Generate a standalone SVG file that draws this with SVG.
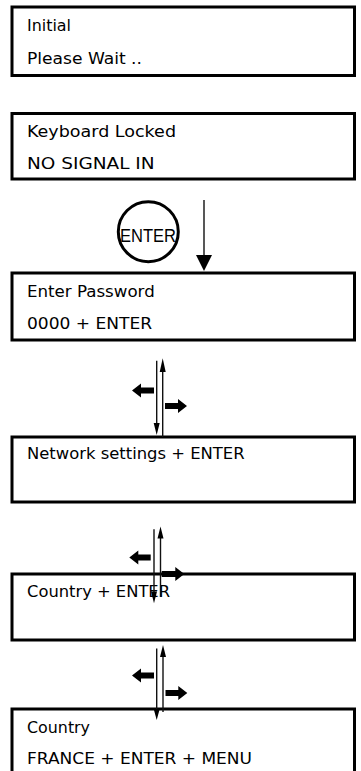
<svg xmlns="http://www.w3.org/2000/svg" width="361" height="771" viewBox="0 0 361 771">
<style>
.box{fill:#fff;stroke:#000;stroke-width:3}
.t{font-family:"DejaVu Sans","Liberation Sans",sans-serif;font-size:16px;fill:#000}
.ln{stroke:#111;stroke-width:1.4;fill:none}
.hd{fill:#000}
</style>
<rect width="361" height="771" fill="#fff"/>
<g id="node-initial">
<rect class="box" x="12" y="7" width="342.5" height="68.5"/>
<text class="t" x="27" y="30.5" textLength="44" lengthAdjust="spacingAndGlyphs">Initial</text>
<text class="t" x="27" y="63.5" textLength="115" lengthAdjust="spacingAndGlyphs">Please Wait ..</text>
</g>
<g id="node-locked">
<rect class="box" x="12" y="113.5" width="342.5" height="65.5"/>
<text class="t" x="27" y="136.7" textLength="149" lengthAdjust="spacingAndGlyphs">Keyboard Locked</text>
<text class="t" x="27" y="168.5" textLength="127.6" lengthAdjust="spacingAndGlyphs">NO SIGNAL IN</text>
</g>
<g id="enter-key">
<circle cx="148.3" cy="231.7" r="30" fill="#fff" stroke="#000" stroke-width="3"/>
<text x="120" y="241.5" font-family="'Liberation Sans',Arial,sans-serif" font-size="19" textLength="56" lengthAdjust="spacingAndGlyphs" fill="#000">ENTER</text>
</g>
<g id="node-password">
<rect class="box" x="12" y="273" width="342.5" height="67"/>
<text class="t" x="27" y="296.7" textLength="127.7" lengthAdjust="spacingAndGlyphs">Enter Password</text>
<text class="t" x="27" y="329.3" textLength="125" lengthAdjust="spacingAndGlyphs">0000 + ENTER</text>
</g>
<g id="node-network">
<rect class="box" x="12" y="437" width="342.5" height="65"/>
<text class="t" x="27" y="459.3" textLength="217.6" lengthAdjust="spacingAndGlyphs">Network settings + ENTER</text>
</g>
<g id="node-country">
<rect class="box" x="12" y="574" width="342.5" height="66"/>
<text class="t" x="27" y="596.7" textLength="143" lengthAdjust="spacingAndGlyphs">Country + ENTER</text>
</g>
<g id="node-france">
<rect class="box" x="12" y="709" width="342.5" height="66"/>
<text class="t" x="27" y="732.5" textLength="63" lengthAdjust="spacingAndGlyphs">Country</text>
<text class="t" x="27" y="764" textLength="225" lengthAdjust="spacingAndGlyphs">FRANCE + ENTER + MENU</text>
</g>
<g id="connectors">
<line class="ln" x1="204" y1="200" x2="204" y2="256"/>
<polygon class="hd" points="196,255 212,255 204,271"/>
<line class="ln" x1="156.7" y1="360.7" x2="156.7" y2="424"/>
<polygon class="hd" points="153.7,423 159.7,423 156.7,435"/>
<line class="ln" x1="162.7" y1="371" x2="162.7" y2="437"/>
<polygon class="hd" points="159.7,372 165.7,372 162.7,358.3"/>
<polygon class="hd" points="132,390.5 141,383.5 141,387.5 154,387.5 154,393.5 141,393.5 141,397.5"/>
<polygon class="hd" points="165,403 178,403 178,399 187,406 178,413 178,409 165,409"/>
<line class="ln" x1="154" y1="529.3" x2="154" y2="592.5"/>
<polygon class="hd" points="151,591.5 157,591.5 154,603.3"/>
<line class="ln" x1="160.5" y1="537.5" x2="160.5" y2="597"/>
<polygon class="hd" points="157.5,538.5 163.5,538.5 160.5,526.5"/>
<polygon class="hd" points="129.3,557.5 138.3,550.5 138.3,554.5 150.7,554.5 150.7,560.5 138.3,560.5 138.3,564.5"/>
<polygon class="hd" points="161.7,571 175.3,571 175.3,567 184.3,574 175.3,581 175.3,577 161.7,577"/>
<line class="ln" x1="156.7" y1="648.5" x2="156.7" y2="710"/>
<polygon class="hd" points="153.7,709 159.7,709 156.7,720"/>
<line class="ln" x1="163" y1="656" x2="163" y2="712"/>
<polygon class="hd" points="160,657 166,657 163,645"/>
<polygon class="hd" points="132,675.5 141,668.5 141,672.5 154,672.5 154,678.5 141,678.5 141,682.5"/>
<polygon class="hd" points="165.5,690 178.3,690 178.3,686 187.3,693 178.3,700 178.3,696 165.5,696"/>
</g>
</svg>
